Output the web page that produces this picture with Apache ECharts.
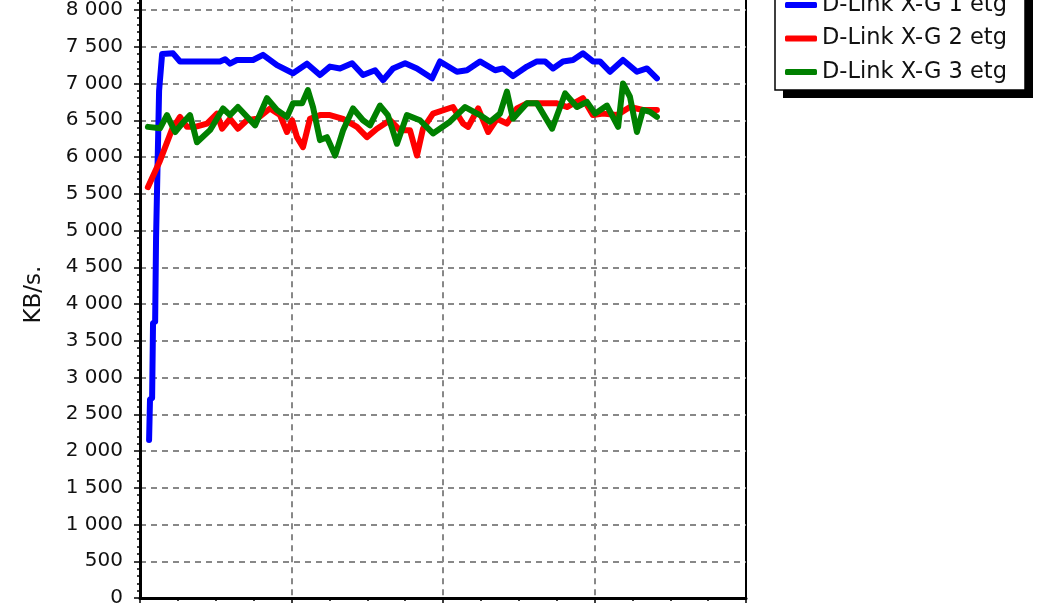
<!DOCTYPE html>
<html>
<head>
<meta charset="utf-8">
<script src="https://cdn.jsdelivr.net/npm/echarts@6/dist/echarts.min.js"></script>
<style>
html,body{margin:0;padding:0;background:#fff;}
#chart{width:1058px;height:604px;}
</style>
</head>
<body>
<div id="chart"></div>
<script>
// Series names
const seriesNames = ['D-Link X-G 1 etg', 'D-Link X-G 2 etg', 'D-Link X-G 3 etg'];

// Blue: D-Link X-G 1 etg (time, KB/s)
const t1 = [3.0, 3.3, 4.0, 4.3, 5.0, 5.3, 5.9, 6.3, 6.9, 7.3, 10.9, 13.2, 26.4, 28.1, 29.7, 32.0, 37.3, 40.6, 45.2, 50.5, 55.1, 59.4, 62.7, 66.0, 70.0, 73.6, 77.6, 80.2, 83.5, 87.5, 91.4, 96.4, 99.0, 104.6, 107.9, 112.2, 117.2, 119.8, 123.1, 127.7, 131.0, 133.7, 136.3, 139.6, 142.9, 146.2, 149.5, 151.8, 155.1, 159.4, 164.0, 167.3, 170.6];
const v1 = [2150, 2700, 2720, 3740, 3760, 4900, 4920, 6900, 6920, 7400, 7410, 7300, 7300, 7330, 7270, 7320, 7320, 7390, 7250, 7140, 7270, 7115, 7230, 7205, 7275, 7115, 7180, 7045, 7205, 7275, 7205, 7070, 7300, 7160, 7180, 7300, 7180, 7205, 7100, 7230, 7300, 7300, 7205, 7300, 7320, 7410, 7300, 7300, 7160, 7320, 7160, 7205, 7070];

// Red: D-Link X-G 2 etg
const t2 = [2.6, 6.6, 10.6, 13.2, 15.5, 18.2, 22.1, 25.4, 27.1, 29.7, 32.3, 35.3, 38.6, 42.9, 46.2, 48.5, 50.2, 51.8, 53.8, 56.1, 59.4, 62.7, 67.0, 71.6, 74.9, 78.2, 82.5, 85.8, 89.1, 91.4, 93.4, 96.7, 103.3, 106.6, 108.3, 111.6, 114.9, 117.8, 121.1, 124.4, 127.7, 137.6, 140.9, 146.2, 149.5, 152.8, 157.4, 161.7, 166.0, 170.6];
const v2 = [5590, 5950, 6380, 6545, 6410, 6410, 6455, 6590, 6385, 6520, 6385, 6500, 6520, 6660, 6570, 6340, 6500, 6270, 6135, 6520, 6570, 6570, 6520, 6410, 6270, 6385, 6500, 6365, 6365, 6020, 6385, 6590, 6680, 6455, 6410, 6660, 6340, 6520, 6455, 6660, 6730, 6730, 6680, 6800, 6570, 6590, 6570, 6680, 6640, 6640];

// Green: D-Link X-G 3 etg
const t3 = [2.6, 6.6, 8.9, 11.6, 13.9, 16.5, 18.8, 23.1, 27.4, 29.7, 32.3, 38.0, 41.9, 45.2, 48.5, 50.5, 53.5, 55.4, 57.1, 59.4, 61.7, 64.4, 67.0, 70.3, 73.6, 75.9, 79.2, 81.8, 84.8, 88.1, 92.4, 96.7, 102.3, 107.3, 112.2, 115.5, 118.8, 121.1, 123.1, 127.7, 131.0, 136.0, 140.3, 144.2, 147.5, 150.2, 154.1, 157.8, 159.4, 161.7, 164.0, 166.0, 168.3, 170.6];
const v3 = [6410, 6390, 6570, 6340, 6455, 6570, 6200, 6365, 6660, 6570, 6680, 6430, 6800, 6640, 6545, 6730, 6730, 6910, 6680, 6230, 6270, 6020, 6360, 6660, 6500, 6430, 6700, 6570, 6180, 6570, 6500, 6320, 6480, 6680, 6570, 6480, 6590, 6890, 6520, 6730, 6730, 6385, 6865, 6680, 6750, 6590, 6700, 6410, 7000, 6820, 6340, 6640, 6615, 6545];

const colors = ['#0000ff', '#ff0000', '#008000'];
const yAxisName = 'KB/s.';

function pairs(t, v) { return t.map((x, i) => [x, v[i]]); }
function fmt(v) { return String(v).replace(/\B(?=(\d{3})+(?!\d))/g, ' '); }

const chart = echarts.init(document.getElementById('chart'), null, {renderer: 'canvas'});
const gridDash = {color: '#888888', width: 2, type: [6, 5]};
chart.setOption({
  backgroundColor: '#ffffff',
  animation: false,
  textStyle: {fontFamily: 'DejaVu Sans'},
  grid: {left: 140, right: 312, top: -26.75, bottom: 6, outerBoundsMode: 'none', containLabel: false,
         show: true, borderColor: '#000', borderWidth: 2, backgroundColor: 'transparent'},
  graphic: [
    {type: 'rect', z: 90, silent: true, shape: {x: 783, y: -12, width: 250, height: 110}, style: {fill: '#000'}},
    {type: 'rect', z: 91, silent: true, shape: {x: 775, y: -20, width: 250, height: 110}, style: {fill: '#fff', stroke: '#000', lineWidth: 1.5}}
  ],
  legend: {
    orient: 'vertical', left: 775, top: -14, z: 100,
    padding: [6, 22, 5, 10],
    itemWidth: 32, itemHeight: 6, itemGap: 7.5,
    icon: 'roundRect',
    textStyle: {fontFamily: 'DejaVu Sans', fontSize: 22.5, color: '#111', lineHeight: 26},
    data: seriesNames
  },
  xAxis: {
    type: 'value', min: 0, max: 200, interval: 50,
    axisLine: {show: true, onZero: false, lineStyle: {color: '#000', width: 3}},
    axisTick: {show: true, length: 5, lineStyle: {color: '#000', width: 1.5}},
    minorTick: {show: true, splitNumber: 4, length: 3, lineStyle: {color: '#000', width: 1.5}},
    axisLabel: {show: false},
    splitLine: {show: true, showMinLine: false, showMaxLine: false, lineStyle: gridDash}
  },
  yAxis: {
    type: 'value', min: 0, max: 8500, interval: 500,
    name: yAxisName, nameLocation: 'middle', nameGap: 94, nameRotate: 90,
    nameTextStyle: {fontFamily: 'DejaVu Sans', fontSize: 23, color: '#111', padding: [0, 18, 0, 0]},
    axisLine: {show: true, lineStyle: {color: '#000', width: 3}},
    axisTick: {show: true, length: 6, lineStyle: {color: '#000', width: 1.5}},
    minorTick: {show: true, splitNumber: 5, length: 3, lineStyle: {color: '#000', width: 1.5}},
    axisLabel: {fontFamily: 'DejaVu Sans', fontSize: 20, color: '#111', margin: 17, formatter: fmt},
    splitLine: {show: true, showMinLine: false, showMaxLine: false, lineStyle: gridDash}
  },
  series: [
    {name: seriesNames[0], type: 'line', data: pairs(t1, v1), symbol: 'none', color: colors[0], lineStyle: {width: 6, color: colors[0], cap: 'round', join: 'round'}},
    {name: seriesNames[1], type: 'line', data: pairs(t2, v2), symbol: 'none', color: colors[1], lineStyle: {width: 6, color: colors[1], cap: 'round', join: 'round'}},
    {name: seriesNames[2], type: 'line', data: pairs(t3, v3), symbol: 'none', color: colors[2], lineStyle: {width: 6, color: colors[2], cap: 'round', join: 'round'}}
  ]
});
</script>
</body>
</html>
